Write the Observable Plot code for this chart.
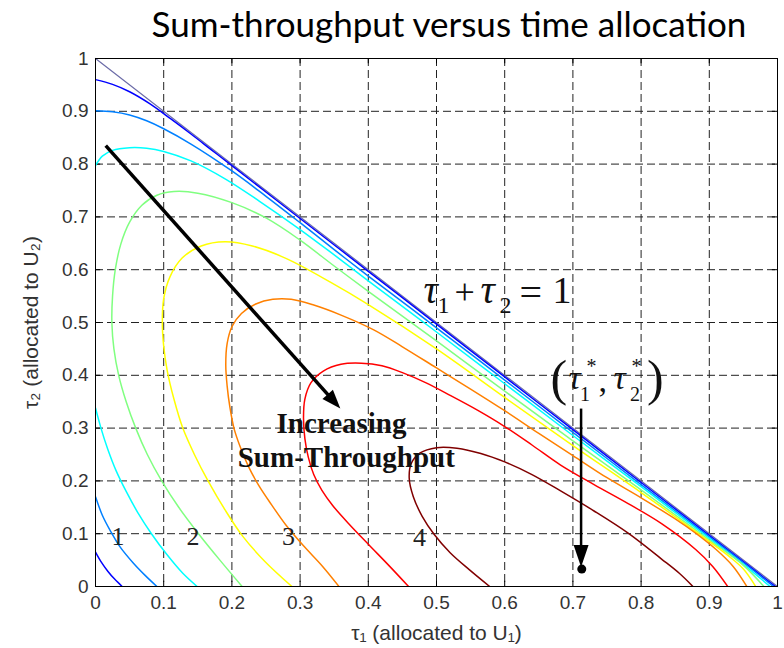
<!DOCTYPE html>
<html><head><meta charset="utf-8">
<script src="https://cdn.jsdelivr.net/npm/d3@7"></script>
<script src="https://cdn.jsdelivr.net/npm/@observablehq/plot@0.6"></script>
<style>
body{margin:0;background:#fff;}
#title{height:48px;box-sizing:border-box;padding-top:6px;padding-left:114px;text-align:center;font-family:Lato,"Open Sans",sans-serif;font-size:35px;line-height:1;white-space:nowrap;color:#000;}
</style></head><body>
<div id="title">Sum-throughput versus time allocation</div>
<div id="chart"></div>
<script>
// ---- axis ticks ----
const xTicks = [0,0.1,0.2,0.3,0.4,0.5,0.6,0.7,0.8,0.9,1];
const xTickLabels = ["0","0.1","0.2","0.3","0.4","0.5","0.6","0.7","0.8","0.9","1"];
const yTicks = [0,0.1,0.2,0.3,0.4,0.5,0.6,0.7,0.8,0.9,1];
const yTickLabels = ["0","0.1","0.2","0.3","0.4","0.5","0.6","0.7","0.8","0.9","1"];

// ---- contour levels (sum-throughput) and jet colours ----
const levels = [0.5,1,1.5,2,2.5,3,3.5,4];
const jet8 = ["#0000ff","#0080ff","#00ffff","#80ff80","#ffff00","#ff8000","#ff0000","#800000"];

// ---- contour lines: [tau1, tau2] ----
const c05top = [[0,0.96],[0.025,0.951],[0.05,0.937],[0.08,0.914],[0.11,0.886],[0.14,0.857],[0.17,0.827],[0.2,0.797],[0.3,0.697],[0.4,0.597],[0.5,0.497],[0.6,0.397],[0.7,0.297],[0.8,0.197],[0.9,0.097],[0.95,0.047],[0.997,0]];
const c05bot = [[0,0.065],[0.008,0.047],[0.018,0.029],[0.028,0.014],[0.039,0]];
const c10top = [[0,0.901],[0.025,0.899],[0.05,0.893],[0.075,0.882],[0.1,0.867],[0.14,0.838],[0.2,0.787],[0.25,0.739],[0.3,0.689],[0.35,0.638],[0.4,0.588],[0.5,0.49],[0.6,0.391],[0.7,0.292],[0.8,0.193],[0.9,0.094],[0.95,0.045],[0.994,0]];
const c10bot = [[0,0.17],[0.01,0.135],[0.022,0.105],[0.036,0.075],[0.055,0.045],[0.072,0.022],[0.09,0]];
const c15top = [[0,0.797],[0.01,0.815],[0.025,0.826],[0.05,0.831],[0.075,0.83],[0.1,0.824],[0.14,0.806],[0.19,0.772],[0.24,0.73],[0.3,0.676],[0.35,0.628],[0.4,0.579],[0.5,0.482],[0.6,0.384],[0.7,0.286],[0.8,0.189],[0.9,0.091],[0.95,0.042],[0.989,0]];
const c15bot = [[0,0.338],[0.008,0.3],[0.018,0.26],[0.03,0.22],[0.045,0.18],[0.062,0.14],[0.082,0.1],[0.105,0.06],[0.128,0.025],[0.149,0]];
const c20 = [[0.215,0],[0.183,0.049],[0.151,0.1],[0.122,0.15],[0.097,0.2],[0.076,0.25],[0.059,0.3],[0.045,0.35],[0.034,0.4],[0.027,0.45],[0.024,0.5],[0.025,0.55],[0.029,0.6],[0.037,0.648],[0.05,0.69],[0.068,0.722],[0.09,0.741],[0.115,0.748],[0.15,0.745],[0.2,0.727],[0.25,0.698],[0.3,0.656],[0.35,0.607],[0.4,0.559],[0.5,0.465],[0.6,0.37],[0.7,0.276],[0.8,0.183],[0.9,0.088],[0.95,0.04],[0.98,0]];
const c25 = [[0.288,0],[0.248,0.048],[0.216,0.095],[0.19,0.145],[0.165,0.2],[0.145,0.25],[0.128,0.3],[0.115,0.355],[0.105,0.41],[0.1,0.455],[0.098,0.5],[0.1,0.545],[0.109,0.586],[0.127,0.622],[0.155,0.645],[0.19,0.653],[0.23,0.645],[0.28,0.621],[0.345,0.576],[0.4,0.534],[0.5,0.45],[0.6,0.358],[0.7,0.267],[0.8,0.178],[0.9,0.085],[0.93,0.056],[0.95,0.033],[0.968,0]];
const c30 = [[0.357,0],[0.333,0.038],[0.305,0.077],[0.28,0.115],[0.258,0.155],[0.24,0.19],[0.224,0.228],[0.212,0.265],[0.203,0.3],[0.197,0.34],[0.193,0.38],[0.191,0.42],[0.193,0.46],[0.2,0.492],[0.214,0.517],[0.235,0.535],[0.26,0.544],[0.287,0.544],[0.32,0.533],[0.36,0.514],[0.408,0.486],[0.45,0.454],[0.5,0.414],[0.55,0.374],[0.6,0.333],[0.65,0.29],[0.7,0.248],[0.75,0.206],[0.8,0.168],[0.85,0.128],[0.88,0.101],[0.91,0.07],[0.935,0.038],[0.955,0]];
const c35 = [[0.459,0],[0.43,0.04],[0.4,0.08],[0.372,0.118],[0.348,0.153],[0.332,0.182],[0.32,0.212],[0.312,0.245],[0.307,0.28],[0.305,0.32],[0.307,0.355],[0.316,0.386],[0.334,0.408],[0.36,0.421],[0.39,0.423],[0.42,0.418],[0.45,0.405],[0.484,0.386],[0.52,0.362],[0.56,0.334],[0.6,0.303],[0.64,0.268],[0.682,0.23],[0.731,0.193],[0.781,0.157],[0.83,0.119],[0.88,0.07],[0.905,0.038],[0.927,0]];
const c40 = [[0.578,0],[0.548,0.032],[0.52,0.064],[0.497,0.098],[0.479,0.133],[0.466,0.17],[0.46,0.205],[0.463,0.233],[0.476,0.253],[0.5,0.263],[0.53,0.262],[0.565,0.252],[0.6,0.236],[0.64,0.212],[0.682,0.181],[0.731,0.143],[0.781,0.101],[0.83,0.052],[0.856,0.025],[0.876,0]];

// boundary tau1 + tau2 = 1
const boundary = [[0,1],[1,0]];

// annotations (data coordinates)
const contourLabels = [{t:"1",x:0.033,y:0.095},{t:"2",x:0.143,y:0.094},{t:"3",x:0.283,y:0.094},{t:"4",x:0.475,y:0.093}];
const arrowIncrease = {x1:0.015,y1:0.835,x2:0.359,y2:0.337};
const arrowOptimum = {x1:0.712,y1:0.337,x2:0.712,y2:0.037};
const optimum = {x:0.713,y:0.033};
const eqAnchor = {x:0.481,y:0.536};
const starAnchor = {x:0.7,y:0.375};
const incAnchor1 = {x:0.3607,y:0.2898};
const incAnchor2 = {x:0.3677,y:0.2259};

// ---- build table ----
const pieces = [
  {id:"a",level:0.5,pts:c05top},{id:"b",level:0.5,pts:c05bot},
  {id:"c",level:1,pts:c10top},{id:"d",level:1,pts:c10bot},
  {id:"e",level:1.5,pts:c15top},{id:"f",level:1.5,pts:c15bot},
  {id:"g",level:2,pts:c20},{id:"h",level:2.5,pts:c25},
  {id:"i",level:3,pts:c30},{id:"j",level:3.5,pts:c35},{id:"k",level:4,pts:c40}
];
const rows = pieces.flatMap(p => p.pts.map(([x,y]) => ({id:p.id, level:p.level, x, y})));

// layout
const W = 784, H = 600, mL = 95, mR = 7, mT = 10, mB = 62;
const pW = W - mL - mR, pH = H - mT - mB;

function headSymbol(a, len, hw){
  const c = Math.cos(a), s = Math.sin(a);
  return {draw(ctx){
    ctx.moveTo(0,0);
    ctx.lineTo(-len*c - hw*s, -len*s + hw*c);
    ctx.lineTo(-len*c + hw*s, -len*s - hw*c);
    ctx.closePath();
  }};
}
function arrowMarks(a, len, hw, sw){
  const dx = (a.x2 - a.x1)*pW, dy = (a.y1 - a.y2)*pH;
  const ang = Math.atan2(dy, dx);
  const c = Math.cos(ang), s = Math.sin(ang);
  const shaft = {x1:a.x1, y1:a.y1, x2:a.x2 - 0.7*len*c/pW, y2:a.y2 + 0.7*len*s/pH};
  return [
    Plot.link([shaft], {x1:"x1",y1:"y1",x2:"x2",y2:"y2",stroke:"black",strokeWidth:sw}),
    Plot.dot([a], {x:"x2",y:"y2",r:5,symbol:headSymbol(ang,len,hw),fill:"black",stroke:"none"})
  ];
}
const serif = "'Liberation Serif','Times New Roman',serif";
function piece(anchor, text, o){
  return Plot.text([anchor], {x:"x",y:"y",text:()=>text,textAnchor:"start",lineAnchor:"bottom",
    fontFamily:serif,fill:"#111",...o});
}

const plot = Plot.plot({
  width: W, height: H,
  marginLeft: mL, marginRight: mR, marginTop: mT, marginBottom: mB,
  style: {fontFamily:"'Liberation Sans',Arial,sans-serif", fontSize:"19px", color:"#333", background:"white", overflow:"visible"},
  x: {domain:[0,1], ticks:xTicks, tickFormat:d => xTickLabels[Math.round(d*10)], tickSize:0, tickPadding:9, label:null},
  y: {domain:[0,1], ticks:yTicks, tickFormat:d => yTickLabels[Math.round(d*10)], tickSize:0, tickPadding:7, label:null},
  color: {type:"ordinal", domain:levels, range:jet8},
  marks: [
    Plot.ruleX(xTicks.slice(1,-1), {stroke:"#222", strokeWidth:1, strokeDasharray:"8,4"}),
    Plot.ruleY(yTicks.slice(1,-1), {stroke:"#222", strokeWidth:1, strokeDasharray:"8,4"}),
    Plot.ruleX(xTicks, {y1:0, y2:0.01, stroke:"black"}),
    Plot.ruleX(xTicks, {y1:0.99, y2:1, stroke:"black"}),
    Plot.ruleY(yTicks, {x1:0, x2:0.0075, stroke:"black"}),
    Plot.ruleY(yTicks, {x1:0.9925, x2:1, stroke:"black"}),
    Plot.line(boundary, {x:d=>d[0], y:d=>d[1], stroke:"#6c6ca8", strokeWidth:1.2}),
    Plot.line(rows, {x:"x", y:"y", z:"id", stroke:"level", strokeWidth:1.5, curve:"catmull-rom", clip:true}),
    Plot.frame({stroke:"black", strokeWidth:1}),
    Plot.text(contourLabels, {x:"x", y:"y", text:"t", fontSize:26, fill:"#222", fontFamily:serif}),
    ...arrowMarks(arrowIncrease, 19, 7, 3.5),
    ...arrowMarks(arrowOptimum, 22, 7.5, 2.5),
    Plot.dot([optimum], {x:"x", y:"y", r:4.5, fill:"black", stroke:"none"}),
    // Increasing Sum-Throughput
    Plot.text([incAnchor1], {x:"x",y:"y",text:()=>"Increasing",lineAnchor:"bottom",fontWeight:"bold",fontSize:29,fill:"#111",fontFamily:serif}),
    Plot.text([incAnchor2], {x:"x",y:"y",text:()=>"Sum-Throughput",lineAnchor:"bottom",fontWeight:"bold",fontSize:29,fill:"#111",fontFamily:serif}),
    // tau1 + tau2 = 1
    piece(eqAnchor, "τ", {fontSize:40, fontStyle:"italic", dx:0}),
    piece(eqAnchor, "1", {fontSize:24, dx:14, dy:10}),
    piece(eqAnchor, "+", {fontSize:36, dx:31, dy:1}),
    piece(eqAnchor, "τ", {fontSize:40, fontStyle:"italic", dx:57}),
    piece(eqAnchor, "2", {fontSize:24, dx:76, dy:10}),
    piece(eqAnchor, "=", {fontSize:40, dx:96, dy:3}),
    piece(eqAnchor, "1", {fontSize:38, dx:129}),
    // (tau1*, tau2*)
    piece(starAnchor, "(", {fontSize:50, dx:-22.4, dy:6}),
    piece(starAnchor, "τ", {fontSize:34, fontStyle:"italic", dx:-4.5}),
    piece(starAnchor, "1", {fontSize:20, dx:7.2, dy:12}),
    piece(starAnchor, "*", {fontSize:20, dx:13.6, dy:-16}),
    piece(starAnchor, ",", {fontSize:34, dx:25.6, dy:3}),
    piece(starAnchor, "τ", {fontSize:34, fontStyle:"italic", dx:40.6}),
    piece(starAnchor, "2", {fontSize:20, dx:57, dy:12}),
    piece(starAnchor, "*", {fontSize:20, dx:58.6, dy:-16}),
    piece(starAnchor, ")", {fontSize:50, dx:74, dy:6}),
    // axis labels
    Plot.text(["τ₁ (allocated to U₁)"], {frameAnchor:"bottom", textAnchor:"middle", lineAnchor:"middle", dy:47, fontSize:21, fill:"#333"}),
    Plot.text(["τ₂ (allocated to U₂)"], {frameAnchor:"left", textAnchor:"middle", lineAnchor:"middle", dx:-64, rotate:-90, fontSize:21, fill:"#333"})
  ]
});
document.getElementById("chart").appendChild(plot);
</script>
</body></html>
